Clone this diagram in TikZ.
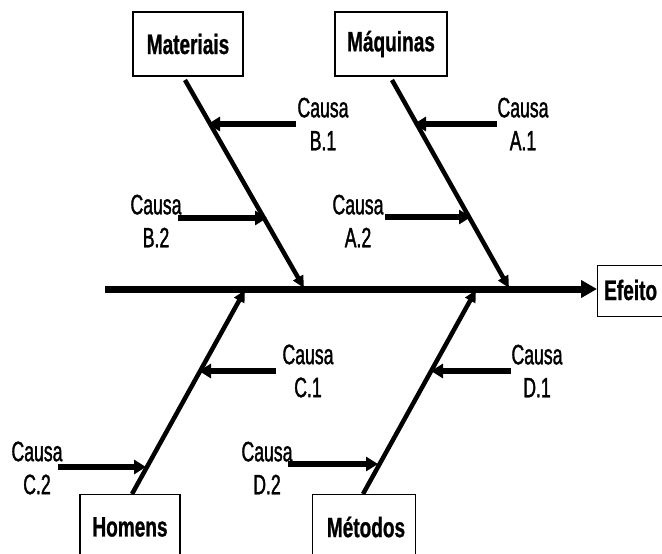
\documentclass[tikz,border=0pt]{standalone}
\usepackage{fontspec}
\setmainfont{Liberation Sans}
\newfontfamily\boxfont{Liberation Sans}[FakeStretch=0.68,UprightFont=*-Bold,FakeBold=0.8]
\newfontfamily\causefont{Liberation Sans}[FakeStretch=0.63,FakeBold=1.3]
\usetikzlibrary{arrows.meta}
\begin{document}
\begin{tikzpicture}[x=1pt,y=-1pt,
  catbox/.style={draw,line width=1.4pt,minimum width=#1,minimum height=64pt,inner sep=0pt,
    font=\boxfont\fontsize{28}{30}\selectfont},
  catbox/.default=110pt,
  boxtext/.style={font=\boxfont\fontsize{28}{30}\selectfont,inner sep=0pt},
  cause/.style={align=center,font=\causefont\fontsize{28}{33}\selectfont,inner sep=0pt},
  bone/.style={line width=4.5pt,-{Triangle[length=12pt,width=11pt]}},
  spine/.style={line width=7pt,-{Triangle[length=16pt,width=17pt]}},
  twig/.style={line width=6pt,-{Triangle[length=12pt,width=14pt]}}]
\useasboundingbox (0,0) rectangle (662,554);
\clip (0,0) rectangle (662,554);
\fill[white] (0,0) rectangle (662,554);

% effect box and main spine
\node[draw,line width=1.4pt,anchor=north west,minimum width=90pt,minimum height=51pt,inner sep=0pt] (efbox) at (597,265) {};
\node[anchor=west,boxtext] (ef) at (604,290) {Efeito};
\coordinate (tail) at (105,289);
\draw[spine] (tail) -- (efbox.west |- tail);

% category boxes
\node[catbox=110pt] (mat) at (188,44) {Materiais};
\node[catbox=112pt] (maq) at (391,44) {Máquinas};
\node[catbox=100pt,minimum height=70pt,anchor=north] (hom) at (130,494) {};
\node[boxtext] (homt) at (130,527) {Homens};
\node[catbox=103pt,minimum height=70pt,anchor=north] (met) at (364,494) {};
\node[boxtext] (mett) at (366,527) {Métodos};

% bone ends on the spine
\coordinate (matS) at (185,80);  \coordinate (matE) at (304,288);
\coordinate (maqS) at (392,80);  \coordinate (maqE) at (509,288);
\coordinate (homS) at (132,494); \coordinate (homE) at (245,290);
\coordinate (metS) at (363,494); \coordinate (metE) at (476,290);
\draw[bone] (matS) -- (matE);
\draw[bone] (maqS) -- (maqE);
\draw[bone] (homS) -- (homE);
\draw[bone] (metS) -- (metE);

% cause labels
\node[cause] (b1) at (323,124) {Causa\\B.1};
\node[cause] (b2) at (156,221) {Causa\\B.2};
\node[cause] (a1) at (523,124) {Causa\\A.1};
\node[cause] (a2) at (358,221) {Causa\\A.2};
\node[cause] (c1) at (308,371) {Causa\\C.1};
\node[cause] (c2) at (37,468) {Causa\\C.2};
\node[cause] (d1) at (537,371) {Causa\\D.1};
\node[cause] (d2) at (267,468) {Causa\\D.2};

% cause arrows onto the bones
\coordinate (b1s) at (296,124); \coordinate (b1e) at (208,124);
\coordinate (b2s) at (178,218); \coordinate (b2e) at (267,218);
\coordinate (a1s) at (497,124); \coordinate (a1e) at (414,124);
\coordinate (a2s) at (385,217); \coordinate (a2e) at (471,217);
\coordinate (c1s) at (276,371); \coordinate (c1e) at (199,371);
\coordinate (c2s) at (58,467);  \coordinate (c2e) at (146,467);
\coordinate (d1s) at (511,371); \coordinate (d1e) at (431,371);
\coordinate (d2s) at (288,464); \coordinate (d2e) at (378,464);
\foreach \c in {b1,b2,a1,a2,c1,c2,d1,d2}
  \draw[twig] (\c s) -- (\c e);
\end{tikzpicture}
\end{document}
